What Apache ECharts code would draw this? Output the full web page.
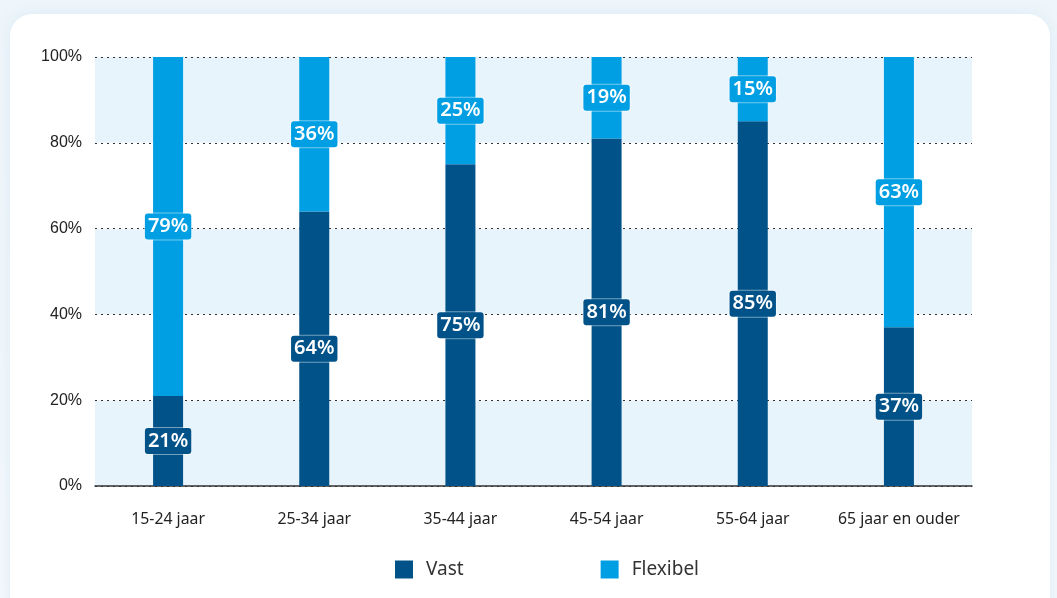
<!DOCTYPE html>
<html>
<head>
<meta charset="utf-8">
<script src="https://cdn.jsdelivr.net/npm/echarts@6/dist/echarts.min.js"></script>
<style>
  html, body { margin: 0; padding: 0; width: 1057px; height: 598px; overflow: hidden;
    background: linear-gradient(180deg, #eef5fb 0%, #f3f8fc 100%); }
  #card { position: absolute; left: 10px; top: 14px; width: 1040px; height: 640px;
    background: #ffffff; border-radius: 22px; box-shadow: 0 0 12px rgba(200,225,240,0.5); }
  #chart { position: absolute; left: 0; top: 0; width: 1057px; height: 598px; }
</style>
</head>
<body>
<div id="card"></div>
<div id="chart"></div>
<script>
// Age groups on the x axis
const categories = ['15-24 jaar', '25-34 jaar', '35-44 jaar', '45-54 jaar', '55-64 jaar', '65 jaar en ouder'];
// Share of permanent contracts (%)
const vast = [21, 64, 75, 81, 85, 37];
// Share of flexible contracts (%)
const flexibel = [79, 36, 25, 19, 15, 63];
const seriesNames = ['Vast', 'Flexibel'];

const DARK = '#005288';
const LIGHT = '#009fe3';
const FONT = '"Noto Sans", "Open Sans", sans-serif';

function segLabel(color) {
  return {
    show: true,
    position: 'inside',
    formatter: p => p.value + '%',
    color: '#ffffff',
    fontFamily: FONT,
    fontWeight: 600,
    fontSize: 20,
    lineHeight: 22,
    backgroundColor: color,
    borderColor: 'rgba(255,255,255,0.45)',
    borderWidth: 1,
    borderRadius: 3,
    padding: [3, 3, 1, 3]
  };
}

const chart = echarts.init(document.getElementById('chart'), null, { renderer: 'canvas' });
chart.setOption({
  animation: false,
  textStyle: { fontFamily: FONT },
  grid: { left: 95, right: 85, top: 57, bottom: 112 },
  legend: {
    left: 390, top: 555,
    itemWidth: 18, itemHeight: 18, itemGap: 137,
    icon: 'rect',
    textStyle: { fontFamily: FONT, fontSize: 19, color: '#333333', padding: [0, 0, 0, 8] },
    data: seriesNames
  },
  xAxis: {
    type: 'category',
    data: categories,
    axisLine: { lineStyle: { color: '#333333', width: 1.5 } },
    axisTick: { show: false },
    axisLabel: { interval: 0, color: '#222222', fontSize: 15.8, margin: 25, fontFamily: FONT }
  },
  yAxis: {
    type: 'value',
    min: 0, max: 100, interval: 20,
    axisLabel: { formatter: '{value}%', color: '#222222', fontSize: 16, margin: 13,
      fontFamily: '"Liberation Sans", Arial, sans-serif' },
    axisLine: { show: false },
    axisTick: { show: false },
    splitLine: { lineStyle: { color: '#333333', type: [2, 4], width: 1 } },
    splitArea: { show: true, areaStyle: { color: ['#e8f4fc', '#ffffff'] } }
  },
  series: [
    {
      name: seriesNames[0], type: 'bar', stack: 'total', data: vast,
      barWidth: 30, itemStyle: { color: DARK }, label: segLabel(DARK)
    },
    {
      name: seriesNames[1], type: 'bar', stack: 'total', data: flexibel,
      barWidth: 30, itemStyle: { color: LIGHT }, label: segLabel(LIGHT)
    }
  ]
});
</script>
</body>
</html>
